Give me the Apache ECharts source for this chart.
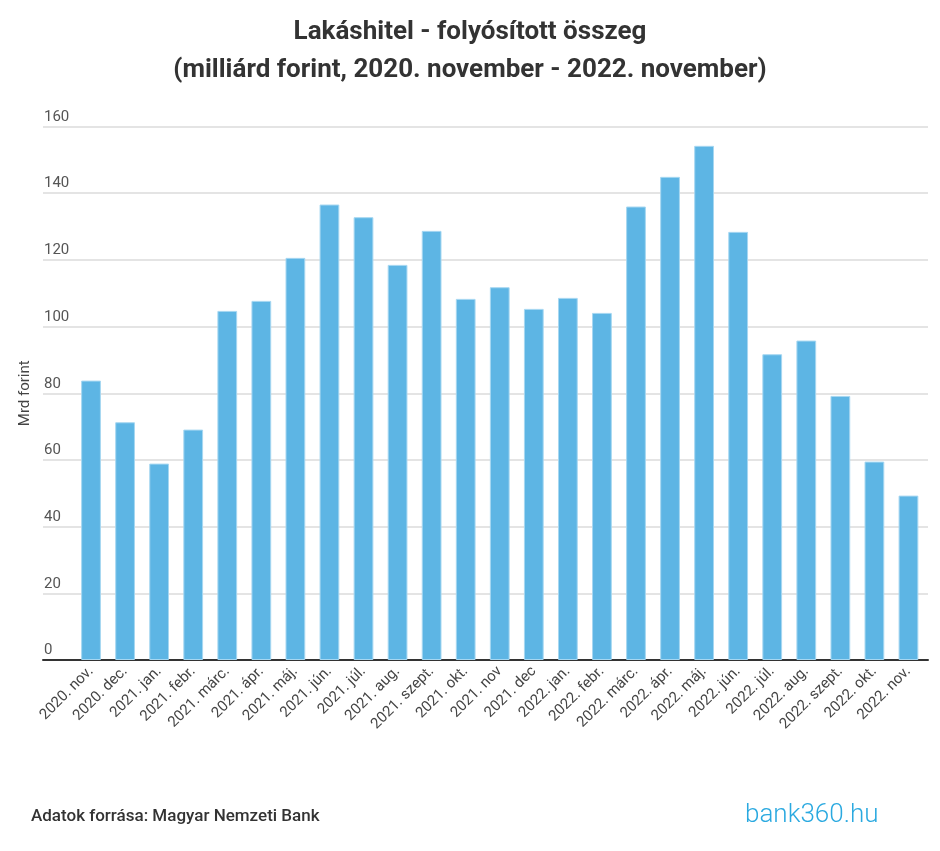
<!DOCTYPE html>
<html>
<head>
<meta charset="utf-8">
<script src="https://cdn.jsdelivr.net/npm/echarts@6/dist/echarts.min.js"></script>
<style>
html,body{margin:0;padding:0;background:#fff;}
#chart{width:940px;height:851px;}
</style>
</head>
<body>
<div id="chart"></div>
<script>
const categories = ["2020. nov.","2020. dec.","2021. jan.","2021. febr.","2021. márc.","2021. ápr.","2021. máj.","2021. jún.","2021. júl.","2021. aug.","2021. szept.","2021. okt.","2021. nov","2021. dec","2022. jan.","2022. febr.","2022. márc.","2022. ápr.","2022. máj.","2022. jún.","2022. júl.","2022. aug.","2022. szept.","2022. okt.","2022. nov."];
const values = [83.8,71.3,58.9,69.1,104.7,107.7,120.6,136.6,132.8,118.5,128.7,108.3,111.8,105.3,108.6,104.1,136.0,144.9,154.2,128.4,91.7,95.8,79.2,59.5,49.3];
const titleLines = ["Lakáshitel - folyósított összeg","(milliárd forint, 2020. november - 2022. november)"];
const yAxisName = "Mrd forint";
const sourceText = "Adatok forrása: Magyar Nemzeti Bank";
const logoText = "bank360.hu";

const chart = echarts.init(document.getElementById('chart'), null, {renderer:'canvas'});
const font = 'Roboto, "Noto Sans", sans-serif';
chart.setOption({
  backgroundColor: '#ffffff',
  animation: false,
  textStyle: {fontFamily: font},
  title: {
    text: titleLines.join('\n'),
    left: 'center',
    top: 8,
    textStyle: {fontFamily: font, fontSize: 26, fontWeight: 'bold', color: '#333333', lineHeight: 38}
  },
  grid: [
    {left: 43, right: 12, top: 126.5, bottom: 191},
    {left: 74, right: 14.5, top: 126.5, bottom: 191}
  ],
  xAxis: [
    {gridIndex: 0, type: 'value', min: 0, max: 1, axisLine: {show: true, lineStyle: {color: '#333333', width: 2}},
     axisTick: {show: false}, axisLabel: {show: false}, splitLine: {show: false}},
    {gridIndex: 1, type: 'category', data: categories, axisLine: {show: false}, axisTick: {show: false},
     axisLabel: {rotate: 45, interval: 0, fontSize: 15, color: '#444444', margin: 9, fontFamily: font}}
  ],
  yAxis: [
    {gridIndex: 0, type: 'value', min: 0, max: 160, interval: 20,
     name: yAxisName, nameLocation: 'middle', nameRotate: 90, nameGap: 8,
     nameTextStyle: {fontSize: 15, color: '#444444', fontFamily: font},
     axisLine: {show: false}, axisTick: {show: false},
     axisLabel: {inside: true, verticalAlign: 'bottom', align: 'left', margin: 1, padding: [0,0,2,0], fontSize: 15, color: '#555555', fontFamily: font},
     splitLine: {show: true, lineStyle: {color: '#e4e4e4', width: 2}}},
    {gridIndex: 1, type: 'value', min: 0, max: 160, interval: 20, show: false, splitLine: {show: false}}
  ],
  series: [{
    type: 'bar',
    xAxisIndex: 1, yAxisIndex: 1,
    data: values,
    barWidth: '58%',
    itemStyle: {color: '#5db5e4', borderColor: '#a6d7f1', borderWidth: 1}
  }],
  graphic: [
    {type: 'text', left: 31, top: 808, style: {text: sourceText, font: '500 17px ' + font, fill: '#333333'}},
    {type: 'text', left: 745, top: 802, style: {text: logoText, font: '300 26px ' + font, fill: '#2aa9e0'}}
  ]
});
</script>
</body>
</html>
